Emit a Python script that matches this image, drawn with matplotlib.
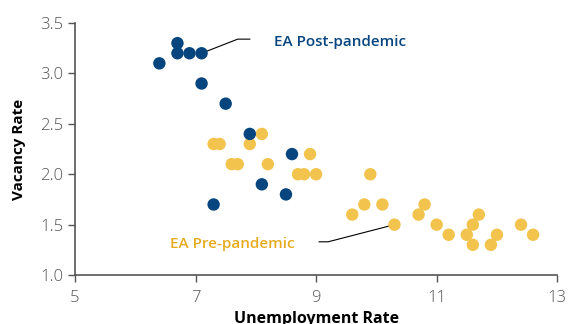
import matplotlib.pyplot as plt

plt.rcParams['font.family'] = ['Open Sans', 'DejaVu Sans']

# EA post-pandemic (unemployment, vacancy)
post_unemp = [6.4, 6.7, 6.7, 6.9, 7.1, 7.1, 7.5, 7.9, 8.6, 8.1, 8.5, 7.3]
post_vac = [3.1, 3.3, 3.2, 3.2, 3.2, 2.9, 2.7, 2.4, 2.2, 1.9, 1.8, 1.7]

# EA pre-pandemic
pre_unemp = [7.3, 7.4, 7.9, 8.1, 7.6, 7.7, 8.2, 8.9, 8.7, 8.8, 9.0, 9.9,
             9.6, 9.8, 10.1, 10.3, 10.7, 10.8, 11.0, 11.2, 11.5, 11.6, 11.6,
             11.7, 11.9, 12.0, 12.4, 12.6]
pre_vac = [2.3, 2.3, 2.3, 2.4, 2.1, 2.1, 2.1, 2.2, 2.0, 2.0, 2.0, 2.0,
           1.6, 1.7, 1.7, 1.5, 1.6, 1.7, 1.5, 1.4, 1.4, 1.5, 1.3,
           1.6, 1.3, 1.4, 1.5, 1.4]

blue = '#06457e'
yellow = '#f2c44e'
yellow_txt = '#e6ab1f'
grey = '#555555'

fig = plt.figure(figsize=(5.68, 3.24), dpi=100)
ax = fig.add_axes([0.132, 0.151, 0.849, 0.778])

ax.scatter(pre_unemp, pre_vac, s=80, color=yellow, edgecolors='none', zorder=2)
ax.scatter(post_unemp, post_vac, s=80, color=blue, edgecolors='none', zorder=3)

# callout lines
ax.plot([7.1, 7.7, 7.9], [3.2, 3.34, 3.34], color='black', lw=0.8, zorder=1)
ax.text(8.3, 3.31, 'EA Post-pandemic', color=blue, fontsize=11,
        fontweight='semibold', va='center', ha='left')
ax.plot([10.3, 9.2, 9.05], [1.5, 1.33, 1.33], color='black', lw=0.8, zorder=1)
ax.text(6.58, 1.31, 'EA Pre-pandemic', color=yellow_txt, fontsize=11,
        fontweight='semibold', va='center', ha='left')

ax.set_xlim(5, 13)
ax.set_ylim(1.0, 3.5)
ax.set_xticks([5, 7, 9, 11, 13])
ax.set_yticks([1.0, 1.5, 2.0, 2.5, 3.0, 3.5])
ax.set_yticklabels(['1.0', '1.5', '2.0', '2.5', '3.0', '3.5'])

for s in ['top', 'right']:
    ax.spines[s].set_visible(False)
for s in ['left', 'bottom']:
    ax.spines[s].set_color(grey)
    ax.spines[s].set_linewidth(1.2)
ax.tick_params(colors=grey, labelsize=12, length=5, width=1)
ax.tick_params(axis='x', pad=6)
for lbl in ax.get_xticklabels() + ax.get_yticklabels():
    lbl.set_fontweight('light')

ax.set_xlabel('Unemployment Rate', fontsize=11.5, fontweight='bold', labelpad=3)
ax.set_ylabel('Vacancy Rate', fontsize=11, fontweight='bold', labelpad=10)

fig.savefig('out.png', dpi=100)
